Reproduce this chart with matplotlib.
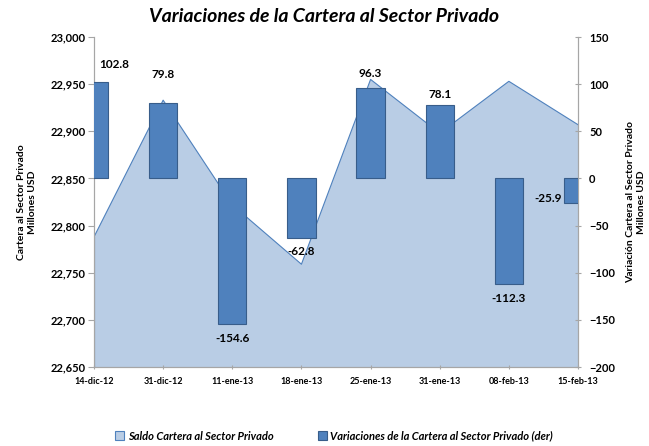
import matplotlib
matplotlib.use("Agg")
import matplotlib.pyplot as plt
from matplotlib.patches import Patch
from matplotlib.ticker import FuncFormatter
import numpy as np

plt.rcParams['font.family'] = ['Lato', 'DejaVu Sans']

categories = ["14-dic-12", "31-dic-12", "11-ene-13", "18-ene-13",
              "25-ene-13", "31-ene-13", "08-feb-13", "15-feb-13"]
saldo = [22788, 22933, 22822, 22759, 22955, 22898, 22953, 22907]
variaciones = [102.8, 79.8, -154.6, -62.8, 96.3, 78.1, -112.3, -25.9]

# label offsets (pixels) relative to bar end: (dx, dy), dy positive = up
label_dx = [20, 0, 0, 0, 0, 0, 0, -30]
label_dy = [17, 29, -14, -14, 14, 10, -14, 4]

area_face = "#B9CDE5"
area_edge = "#4F81BD"
bar_face = "#4F81BD"
bar_edge = "#385D8A"
grey = "#A6A6A6"

fig = plt.figure(figsize=(6.49, 4.46), dpi=100)
ax = fig.add_axes([94/649, 1-367/446, (578-94)/649, (367-37)/446])
x = np.arange(len(categories))

ax.fill_between(x, saldo, 22650, facecolor=area_face, edgecolor='none', zorder=1)
ax.plot(x, saldo, color=area_edge, lw=0.8, zorder=2)
ax.plot([0, 0], [22650, saldo[0]], color=area_edge, lw=0.8, zorder=2)
ax.set_ylim(22650, 23000)
ax.set_xlim(0, len(categories)-1)
ax.set_yticks(np.arange(22650, 23001, 50))
ax.yaxis.set_major_formatter(FuncFormatter(lambda v, p: f"{v:,.0f}"))
ax.set_xticks(x)
ax.set_xticklabels(categories, fontsize=6.5, fontweight='bold')
for lab in ax.get_yticklabels():
    lab.set_fontsize(8)
    lab.set_fontweight('bold')
ax.tick_params(axis='y', length=4, color=grey, pad=2)
ax.tick_params(axis='x', length=3, color=grey, direction='inout', pad=6)
ax.spines['top'].set_visible(False)
for s in ['left', 'bottom', 'right']:
    ax.spines[s].set_color(grey)
ax.set_ylabel("Cartera al Sector Privado\nMillones USD", fontsize=7.5, fontweight='bold', labelpad=10)

ax2 = ax.twinx()
ax2.bar(x, variaciones, width=0.41, color=bar_face, edgecolor=bar_edge, lw=0.8, zorder=3)
ax2.set_ylim(-200, 150)
ax2.set_yticks(np.arange(-200, 151, 50))
for lab in ax2.get_yticklabels():
    lab.set_fontsize(8)
    lab.set_fontweight('bold')
ax2.tick_params(axis='y', length=4, color=grey, direction='inout', pad=6)
ax2.spines['top'].set_visible(False)
for s in ['left', 'bottom', 'right']:
    ax2.spines[s].set_color(grey)
ax2.set_ylabel("Variación Cartera al Sector Privado\nMillones USD", fontsize=7.5, fontweight='bold', labelpad=8)

for xi, v, dx, dy in zip(x, variaciones, label_dx, label_dy):
    ax2.annotate(f"{v:.1f}", (xi, v), xytext=(dx*0.72, dy*0.72), textcoords='offset points',
                 ha='center', va='center', fontsize=8.5, fontweight='bold', annotation_clip=False)

fig.text(0.5, 1-17/446, "Variaciones de la Cartera al Sector Privado", ha='center', va='center',
         fontsize=14, fontweight='bold', style='italic')

handles = [Patch(facecolor=area_face, edgecolor=area_edge, lw=0.8),
           Patch(facecolor=bar_face, edgecolor=bar_edge, lw=0.8)]
fig.legend(handles, ["Saldo Cartera al Sector Privado",
                     "Variaciones de la Cartera al Sector Privado (der)"],
           loc='center', bbox_to_anchor=(334/649, 1-436/446), ncol=2, frameon=False,
           prop={'size': 8, 'weight': 'bold', 'style': 'italic'},
           handlelength=0.8, handleheight=0.8, handletextpad=0.3, columnspacing=4)

fig.savefig("out.png", dpi=100)
